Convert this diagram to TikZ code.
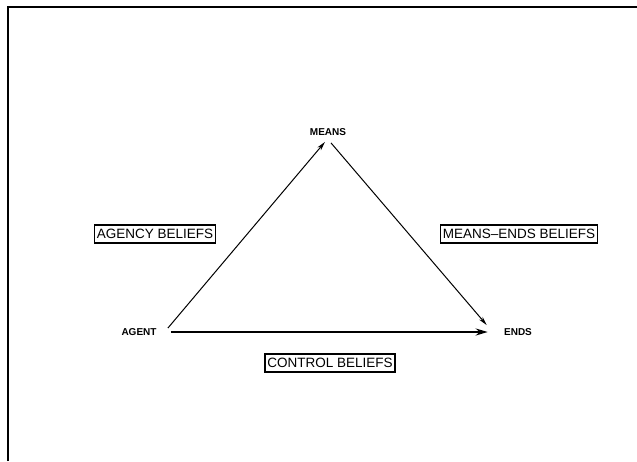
\documentclass[tikz,border=0pt]{standalone}
\usepackage{fontspec}
\setmainfont{Liberation Sans}
\usetikzlibrary{arrows.meta}

\tikzset{every picture/.style={line width=0.75pt}}
\tikzset{
  corner/.style={font=\fontsize{10}{11}\selectfont\bfseries, inner sep=3pt},
  belief/.style={draw, line width=1.5pt, font=\fontsize{13.5}{15}\selectfont, inner sep=2.5pt, minimum height=18pt},
  thinarrow/.style={line width=1pt, -{Stealth[length=9pt,width=4.5pt]}},
  thickarrow/.style={line width=2.6pt, -{Stealth[length=12pt,width=7pt]}}
}

\begin{document}
\begin{tikzpicture}[x=1pt,y=1pt,yscale=-1,xscale=1]
\useasboundingbox (0,0) rectangle (637,461);

%Frame
\draw [line width=2pt] (8,461) -- (8,7) -- (637,7) ;

% Text Node
\node [corner] (means) at (328,132) {MEANS};
% Text Node
\node [corner] (agent) at (139,332) {AGENT};
% Text Node
\node [corner] (ends) at (518,332) {ENDS};

% Text Node
\node [belief] (agency) at (155,234) {AGENCY BELIEFS};
% Text Node
\node [belief] (meansends) at (519,234) {MEANS--ENDS BELIEFS};
% Text Node
\node [belief] (control) at (330,363) {CONTROL BELIEFS};

%Arrows
\draw [thinarrow] ([xshift=8pt,yshift=3pt]agent.north east) -- ([xshift=-3pt,yshift=3pt]means.south) ;
\draw [thinarrow] ([xshift=3pt,yshift=4pt]means.south) -- ([xshift=-14pt]ends.north west) ;
\draw [thickarrow] ([xshift=11pt]agent.east) -- ([xshift=-13pt]ends.west) ;

\end{tikzpicture}
\end{document}
